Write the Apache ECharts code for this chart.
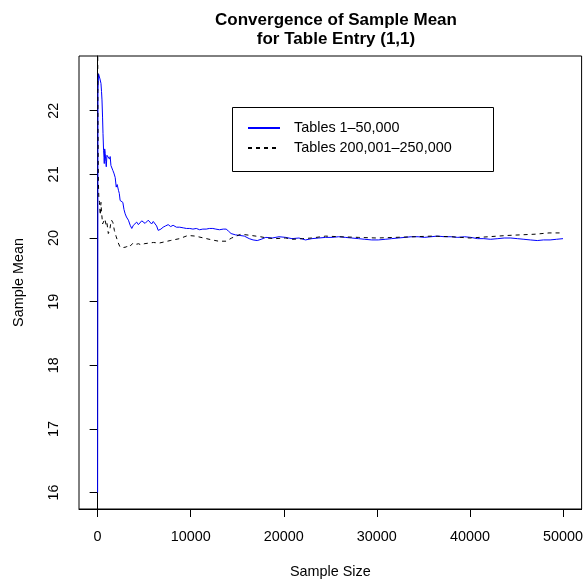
<!DOCTYPE html>
<html>
<head>
<meta charset="utf-8">
<script src="https://cdn.jsdelivr.net/npm/echarts@6/dist/echarts.min.js"></script>
<style>
  html, body { margin: 0; padding: 0; background: #fff; }
  #main { width: 586px; height: 584px; }
</style>
</head>
<body>
<div id="main"></div>
<script>
// sample size / running mean
var blueN = [1, 40, 100, 250, 360, 420, 470, 530, 580, 640, 690, 715, 760, 820, 880, 930, 1000, 1070, 1150, 1280, 1350, 1430, 1530, 1640, 1750, 1890, 2000, 2100, 2240, 2330, 2420, 2550, 2710, 2830, 2960, 3100, 3310, 3500, 3670, 3840, 4000, 4200, 4380, 4560, 4740, 4910, 5100, 5270, 5440, 5620, 5800, 5980, 6160, 6340, 6510, 6800, 7040, 7300, 7580, 7850, 8110, 8470, 8820, 9200, 9540, 9900, 10240, 10600, 10960, 11300, 11670, 12000, 12380, 12700, 13090, 13500, 13810, 14050, 14340, 14800, 15300, 15760, 16290, 16700, 17150, 17570, 18070, 18750, 19490, 20210, 20880, 21630, 22340, 23020, 23760, 24500, 25180, 25900, 26610, 27300, 28030, 28700, 29450, 30160, 30900, 31580, 32300, 33010, 33700, 34430, 35100, 35820, 36500, 37280, 38000, 38700, 39420, 40090, 40830, 41500, 42220, 43000, 43680, 44400, 45100, 45800, 46490, 47240, 47900, 48620, 49300, 50000];
var blueMean = [16.0, 22.3, 22.58, 22.5, 22.43, 22.3, 22.17, 21.9, 21.64, 21.38, 21.26, 21.17, 21.4, 21.33, 21.2, 21.12, 21.3, 21.27, 21.32, 21.24, 21.28, 21.14, 21.17, 21.06, 21.02, 20.95, 20.8, 20.84, 20.75, 20.7, 20.59, 20.6, 20.56, 20.45, 20.38, 20.33, 20.28, 20.2, 20.15, 20.2, 20.22, 20.25, 20.21, 20.22, 20.27, 20.26, 20.23, 20.25, 20.28, 20.25, 20.22, 20.26, 20.23, 20.19, 20.12, 20.14, 20.17, 20.19, 20.21, 20.18, 20.2, 20.17, 20.17, 20.16, 20.15, 20.15, 20.14, 20.15, 20.13, 20.14, 20.14, 20.15, 20.15, 20.14, 20.13, 20.14, 20.14, 20.11, 20.07, 20.05, 20.04, 20.03, 19.99, 19.97, 19.96, 19.98, 20.01, 20.0, 20.02, 20.01, 19.99, 20.0, 19.97, 19.99, 20.0, 20.01, 20.01, 20.02, 20.01, 20.0, 19.99, 19.98, 19.97, 19.97, 19.98, 19.99, 20.0, 20.01, 20.02, 20.02, 20.01, 20.02, 20.03, 20.02, 20.02, 20.01, 20.02, 20.01, 19.99, 19.99, 19.98, 19.99, 20.0, 20.0, 19.99, 19.98, 19.97, 19.96, 19.97, 19.97, 19.98, 19.99];

var blackN = [1, 30, 80, 130, 200, 280, 360, 420, 470, 530, 600, 700, 780, 850, 920, 1000, 1080, 1150, 1220, 1300, 1400, 1500, 1580, 1650, 1800, 2000, 2200, 2400, 2600, 2750, 2900, 3100, 3300, 3550, 3800, 4100, 4400, 4700, 5000, 5500, 6000, 6600, 7200, 7800, 8800, 9700, 10500, 11400, 12300, 13000, 13800, 14400, 15400, 16500, 17500, 18200, 19100, 20200, 21000, 22000, 23000, 24500, 26000, 28000, 30000, 32000, 34000, 36000, 38000, 40000, 42000, 44000, 45500, 47000, 48500, 50000];
var blackMean = [23.6, 22.0, 20.9, 20.64, 20.56, 20.36, 20.56, 20.4, 20.33, 20.22, 20.2, 20.23, 20.3, 20.27, 20.2, 20.24, 20.15, 20.07, 20.1, 20.12, 20.22, 20.28, 20.3, 20.24, 20.12, 20.02, 19.93, 19.86, 19.83, 19.85, 19.87, 19.86, 19.9, 19.88, 19.92, 19.9, 19.91, 19.89, 19.91, 19.92, 19.93, 19.92, 19.94, 19.96, 19.99, 20.04, 20.03, 20.0, 19.97, 19.95, 19.95, 20.0, 20.06, 20.04, 20.02, 20.0, 19.99, 20.0, 19.98, 19.99, 20.0, 20.03, 20.02, 20.01, 20.0, 20.01, 20.02, 20.03, 20.02, 20.0, 20.02, 20.04, 20.05, 20.06, 20.08, 20.08];

var xTicks = [0, 10000, 20000, 30000, 40000, 50000];
var yTicks = [16, 17, 18, 19, 20, 21, 22];

var seriesNames = ['Tables 1\u201350,000', 'Tables 200,001\u2013250,000'];

function pairs(xs, ys) {
    var out = [];
    for (var i = 0; i < xs.length; i++) {
        out.push([xs[i], ys[i]]);
    }
    return out;
}

var font = 'Liberation Sans, Arial, Helvetica, sans-serif';
var chart = echarts.init(document.getElementById('main'), null, { renderer: 'canvas' });

var option = {
    animation: false,
    backgroundColor: '#fff',
    textStyle: { fontFamily: font, color: '#000' },
    title: {
        text: 'Convergence of Sample Mean\nfor Table Entry (1,1)',
        left: 331,
        top: 6,
        textAlign: 'center',
        textStyle: { fontFamily: font, fontSize: 17, fontWeight: 'bold', lineHeight: 19, color: '#000' }
    },
    grid: {
        left: 79, right: 3, top: 56, bottom: 75,
        show: true, borderColor: '#000', borderWidth: 1, backgroundColor: 'transparent'
    },
    legend: {
        orient: 'vertical',
        left: 247,
        top: 121,
        itemWidth: 32,
        itemHeight: 14,
        itemGap: 6,
        padding: 0,
        selectedMode: false,
        data: seriesNames,
        itemStyle: { opacity: 0 },
        textStyle: { fontFamily: font, fontSize: 14.4, color: '#000', padding: [0, 0, 0, 9] }
    },
    graphic: [{
        type: 'rect',
        shape: { x: 232.5, y: 107.5, width: 261, height: 64 },
        style: { fill: 'none', stroke: '#000', lineWidth: 1 },
        z: 10
    }],
    xAxis: {
        type: 'value',
        min: -2000,
        max: 52000,
        name: 'Sample Size',
        nameLocation: 'middle',
        nameGap: 56,
        nameTextStyle: { fontFamily: font, fontSize: 14.4, color: '#000' },
        axisLine: { show: true, lineStyle: { color: '#000', width: 1 } },
        axisTick: { show: true, length: 8, lineStyle: { color: '#000' }, customValues: xTicks },
        axisLabel: {
            fontFamily: font, fontSize: 14.4, color: '#000', margin: 21,
            customValues: xTicks,
            formatter: function (v) { return String(v); }
        },
        splitLine: { show: false }
    },
    yAxis: {
        type: 'value',
        min: 15.742,
        max: 22.86,
        name: 'Sample Mean',
        nameLocation: 'middle',
        nameGap: 53,
        nameTextStyle: { fontFamily: font, fontSize: 14.4, color: '#000' },
        axisLine: { show: true, lineStyle: { color: '#000', width: 1 } },
        axisTick: { show: true, length: 8, lineStyle: { color: '#000' }, customValues: yTicks },
        axisLabel: {
            fontFamily: font, fontSize: 14.4, color: '#000', margin: 18, rotate: 90,
            customValues: yTicks,
            formatter: function (v) { return String(v); }
        },
        splitLine: { show: false }
    },
    series: [{
        name: seriesNames[0],
        type: 'line',
        symbol: 'none',
        clip: true,
        data: pairs(blueN, blueMean),
        lineStyle: { color: '#0000ff', width: 1 },
        itemStyle: { color: '#0000ff' }
    }, {
        name: seriesNames[1],
        type: 'line',
        symbol: 'none',
        clip: true,
        data: pairs(blackN, blackMean),
        lineStyle: { color: '#000', width: 1, type: [4, 4] },
        itemStyle: { color: '#000' }
    }]
};
chart.setOption(option);
</script>
</body>
</html>
